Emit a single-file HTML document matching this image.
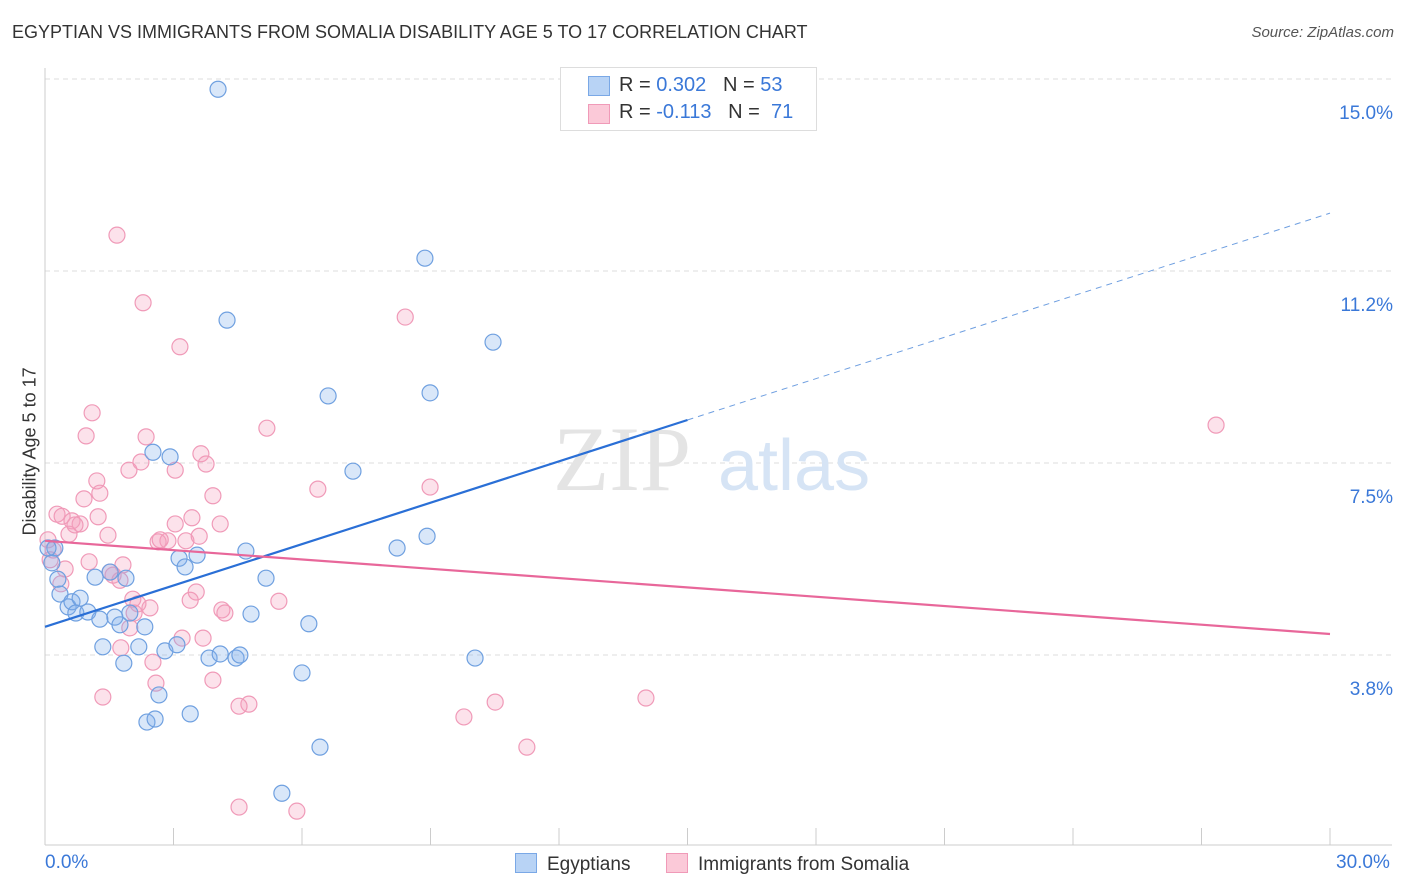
<!DOCTYPE html>
<html><head><meta charset="utf-8"><style>
body{margin:0;background:#fff;font-family:"Liberation Sans",sans-serif;}
#wrap{position:relative;width:1406px;height:892px;overflow:hidden;}
.t{position:absolute;white-space:nowrap;}
</style></head><body>
<div id="wrap">
<div class="t" style="left:12px;top:22px;font-size:18px;color:#333;">EGYPTIAN VS IMMIGRANTS FROM SOMALIA DISABILITY AGE 5 TO 17 CORRELATION CHART</div>
<div class="t" style="right:12px;top:24px;font-size:15px;color:#555;font-style:italic;">Source: ZipAtlas.com</div>
<svg id="plot" width="1406" height="892" style="position:absolute;left:0;top:0"></svg>
<div class="t" style="left:560px;top:67px;width:255px;height:62px;border:1px solid #ddd;background:#fff;font-size:20px;color:#333;">
 <div style="position:absolute;left:27px;top:8px;width:20px;height:18px;background:#b8d3f5;border:1px solid #7aa8e6;"></div>
 <div style="position:absolute;left:58px;top:6px;">R = <span style="color:#3a78d8">0.302</span>&nbsp;&nbsp;&nbsp;N = <span style="color:#3a78d8">53</span></div>
 <div style="position:absolute;left:27px;top:36px;width:20px;height:18px;background:#fbc9d8;border:1px solid #f09ab8;"></div>
 <div style="position:absolute;left:58px;top:33px;">R = <span style="color:#3a78d8">-0.113</span>&nbsp;&nbsp;&nbsp;N = &nbsp;<span style="color:#3a78d8">71</span></div>
</div>
<div class="t" style="left:-50px;top:445px;font-size:18px;color:#333;transform:rotate(-90deg);width:160px;text-align:center;">Disability Age 5 to 17</div>
<div class="t" style="left:45px;top:852px;font-size:19px;color:#3a78d8;">0.0%</div>
<div class="t" style="left:1336px;top:852px;font-size:19px;color:#3a78d8;">30.0%</div>
<div class="t" style="left:515px;top:853px;font-size:19px;color:#333;"><span style="display:inline-block;width:20px;height:18px;background:#b8d3f5;border:1px solid #7aa8e6;vertical-align:-3px;margin-right:10px;"></span>Egyptians</div>
<div class="t" style="left:666px;top:853px;font-size:19px;color:#333;"><span style="display:inline-block;width:20px;height:18px;background:#fbc9d8;border:1px solid #f09ab8;vertical-align:-3px;margin-right:10px;"></span>Immigrants from Somalia</div>
</div>
<script>
const yTicks=[3.75,7.5,11.25,15];
const yTickLabels=["3.8%","7.5%","11.2%","15.0%"];
const blueX=[4.04,8.87,4.25,10.46,6.61,8.99,2.52,2.92,7.19,8.22,8.92,4.69,3.55,3.13,3.27,5.16,0.23,0.16,0.30,0.35,0.54,0.63,0.82,0.72,1.00,1.17,1.52,1.89,1.63,1.28,1.98,1.75,2.33,4.81,6.16,1.35,2.19,2.80,3.08,3.83,4.09,4.46,4.55,1.84,10.04,6.00,2.66,3.39,2.38,2.57,6.42,5.53,0.07];
const blueY=[14.80,11.50,10.29,9.86,8.81,8.87,7.71,7.62,7.34,5.84,6.07,5.78,5.70,5.64,5.47,5.25,5.84,5.55,5.23,4.94,4.69,4.79,4.86,4.57,4.59,5.27,5.37,5.25,4.49,4.45,4.57,4.34,4.30,4.55,4.36,3.91,3.91,3.83,3.95,3.69,3.77,3.69,3.75,3.59,3.69,3.40,2.97,2.60,2.44,2.50,1.95,1.05,5.84];
const pinkX=[1.68,2.29,8.41,3.15,27.34,1.10,0.96,2.36,5.18,3.64,3.76,1.96,2.24,3.04,1.21,1.28,0.91,6.37,8.99,3.92,0.28,0.40,0.63,0.82,1.24,1.47,0.56,3.43,3.04,4.09,2.87,2.64,3.29,3.60,1.03,1.82,1.59,0.47,0.37,2.05,2.17,2.45,3.53,4.13,4.20,5.46,2.08,1.98,1.77,3.20,3.69,2.52,3.92,2.59,1.35,4.76,4.53,14.03,9.78,10.51,11.25,4.53,5.88,0.07,0.12,0.19,0.70,1.75,2.69,3.39,1.52];
const pinkY=[11.95,10.63,10.35,9.77,8.24,8.48,8.03,8.01,8.18,7.68,7.48,7.36,7.52,7.36,7.15,6.91,6.80,6.99,7.03,6.86,6.50,6.46,6.37,6.31,6.45,6.09,6.11,6.43,6.31,6.31,5.98,5.96,5.98,6.07,5.57,5.51,5.31,5.43,5.14,4.84,4.75,4.67,4.98,4.63,4.57,4.80,4.57,4.28,3.89,4.08,4.08,3.61,3.26,3.20,2.93,2.79,2.75,2.91,2.54,2.83,1.95,0.78,0.70,6.00,5.61,5.80,6.29,5.21,6.00,4.82,5.37];
const blueTrend=[4.30,8.34,12.38]; // values at x=0,15,30
const pinkTrend=[5.98,4.16]; // values at x=0,30
const NS="http://www.w3.org/2000/svg";
const svg=document.getElementById('plot');
const sx=v=>45+v*(1285/30);
const sy=v=>847-v*51.2;
function mk(tag,attrs){const e=document.createElementNS(NS,tag);for(const k in attrs)e.setAttribute(k,attrs[k]);svg.appendChild(e);return e;}
// gridlines
yTicks.forEach((t,i)=>{
 const g=mk('line',{x1:45,x2:1392,y1:sy(t),y2:sy(t),stroke:'#ddd','stroke-dasharray':'5,4'});
 
 
 const tx=mk('text',{x:1393,y:sy(t)+40,'text-anchor':'end','font-size':19,fill:'#3a78d8','font-family':'Liberation Sans, sans-serif'});
 tx.textContent=yTickLabels[i];
 
 
});
// axes
let a=mk('line',{x1:45,x2:45,y1:68,y2:845,stroke:'#ccc'});


a=mk('line',{x1:45,x2:1392,y1:845,y2:845,stroke:'#ccc'});


for(let i=1;i<=10;i++){
 const t=mk('line',{x1:sx(i*3),x2:sx(i*3),y1:828,y2:845,stroke:'#ccc'});
 
 
}
// watermark
let w=mk('text',{x:553,y:490,'font-size':92,fill:'#e4e4e4','font-family':'Liberation Serif, serif'});
w.textContent='ZIP';


w=mk('text',{x:718,y:490,'font-size':72,fill:'#d6e4f5','font-family':'Liberation Sans, sans-serif'});
w.textContent='atlas';


// points
pinkX.forEach((x,i)=>{
 const c=mk('circle',{cx:sx(x),cy:sy(pinkY[i]),r:8,fill:'rgba(245,160,190,0.3)',stroke:'#f09ab8','stroke-width':1.2});
 
 
});
blueX.forEach((x,i)=>{
 const c=mk('circle',{cx:sx(x),cy:sy(blueY[i]),r:8,fill:'rgba(130,175,235,0.3)',stroke:'#6fa0e0','stroke-width':1.2});
 
 
});
// trends
let l=mk('line',{x1:sx(0),y1:sy(blueTrend[0]),x2:sx(15),y2:sy(blueTrend[1]),stroke:'#2a6fd6','stroke-width':2.2});


l=mk('line',{x1:sx(15),y1:sy(blueTrend[1]),x2:sx(30),y2:sy(blueTrend[2]),stroke:'#6f9fe0','stroke-width':1,'stroke-dasharray':'6,5'});


l=mk('line',{x1:sx(0),y1:sy(pinkTrend[0]),x2:sx(30),y2:sy(pinkTrend[1]),stroke:'#e8679a','stroke-width':2.2});


</script>
</body></html>
